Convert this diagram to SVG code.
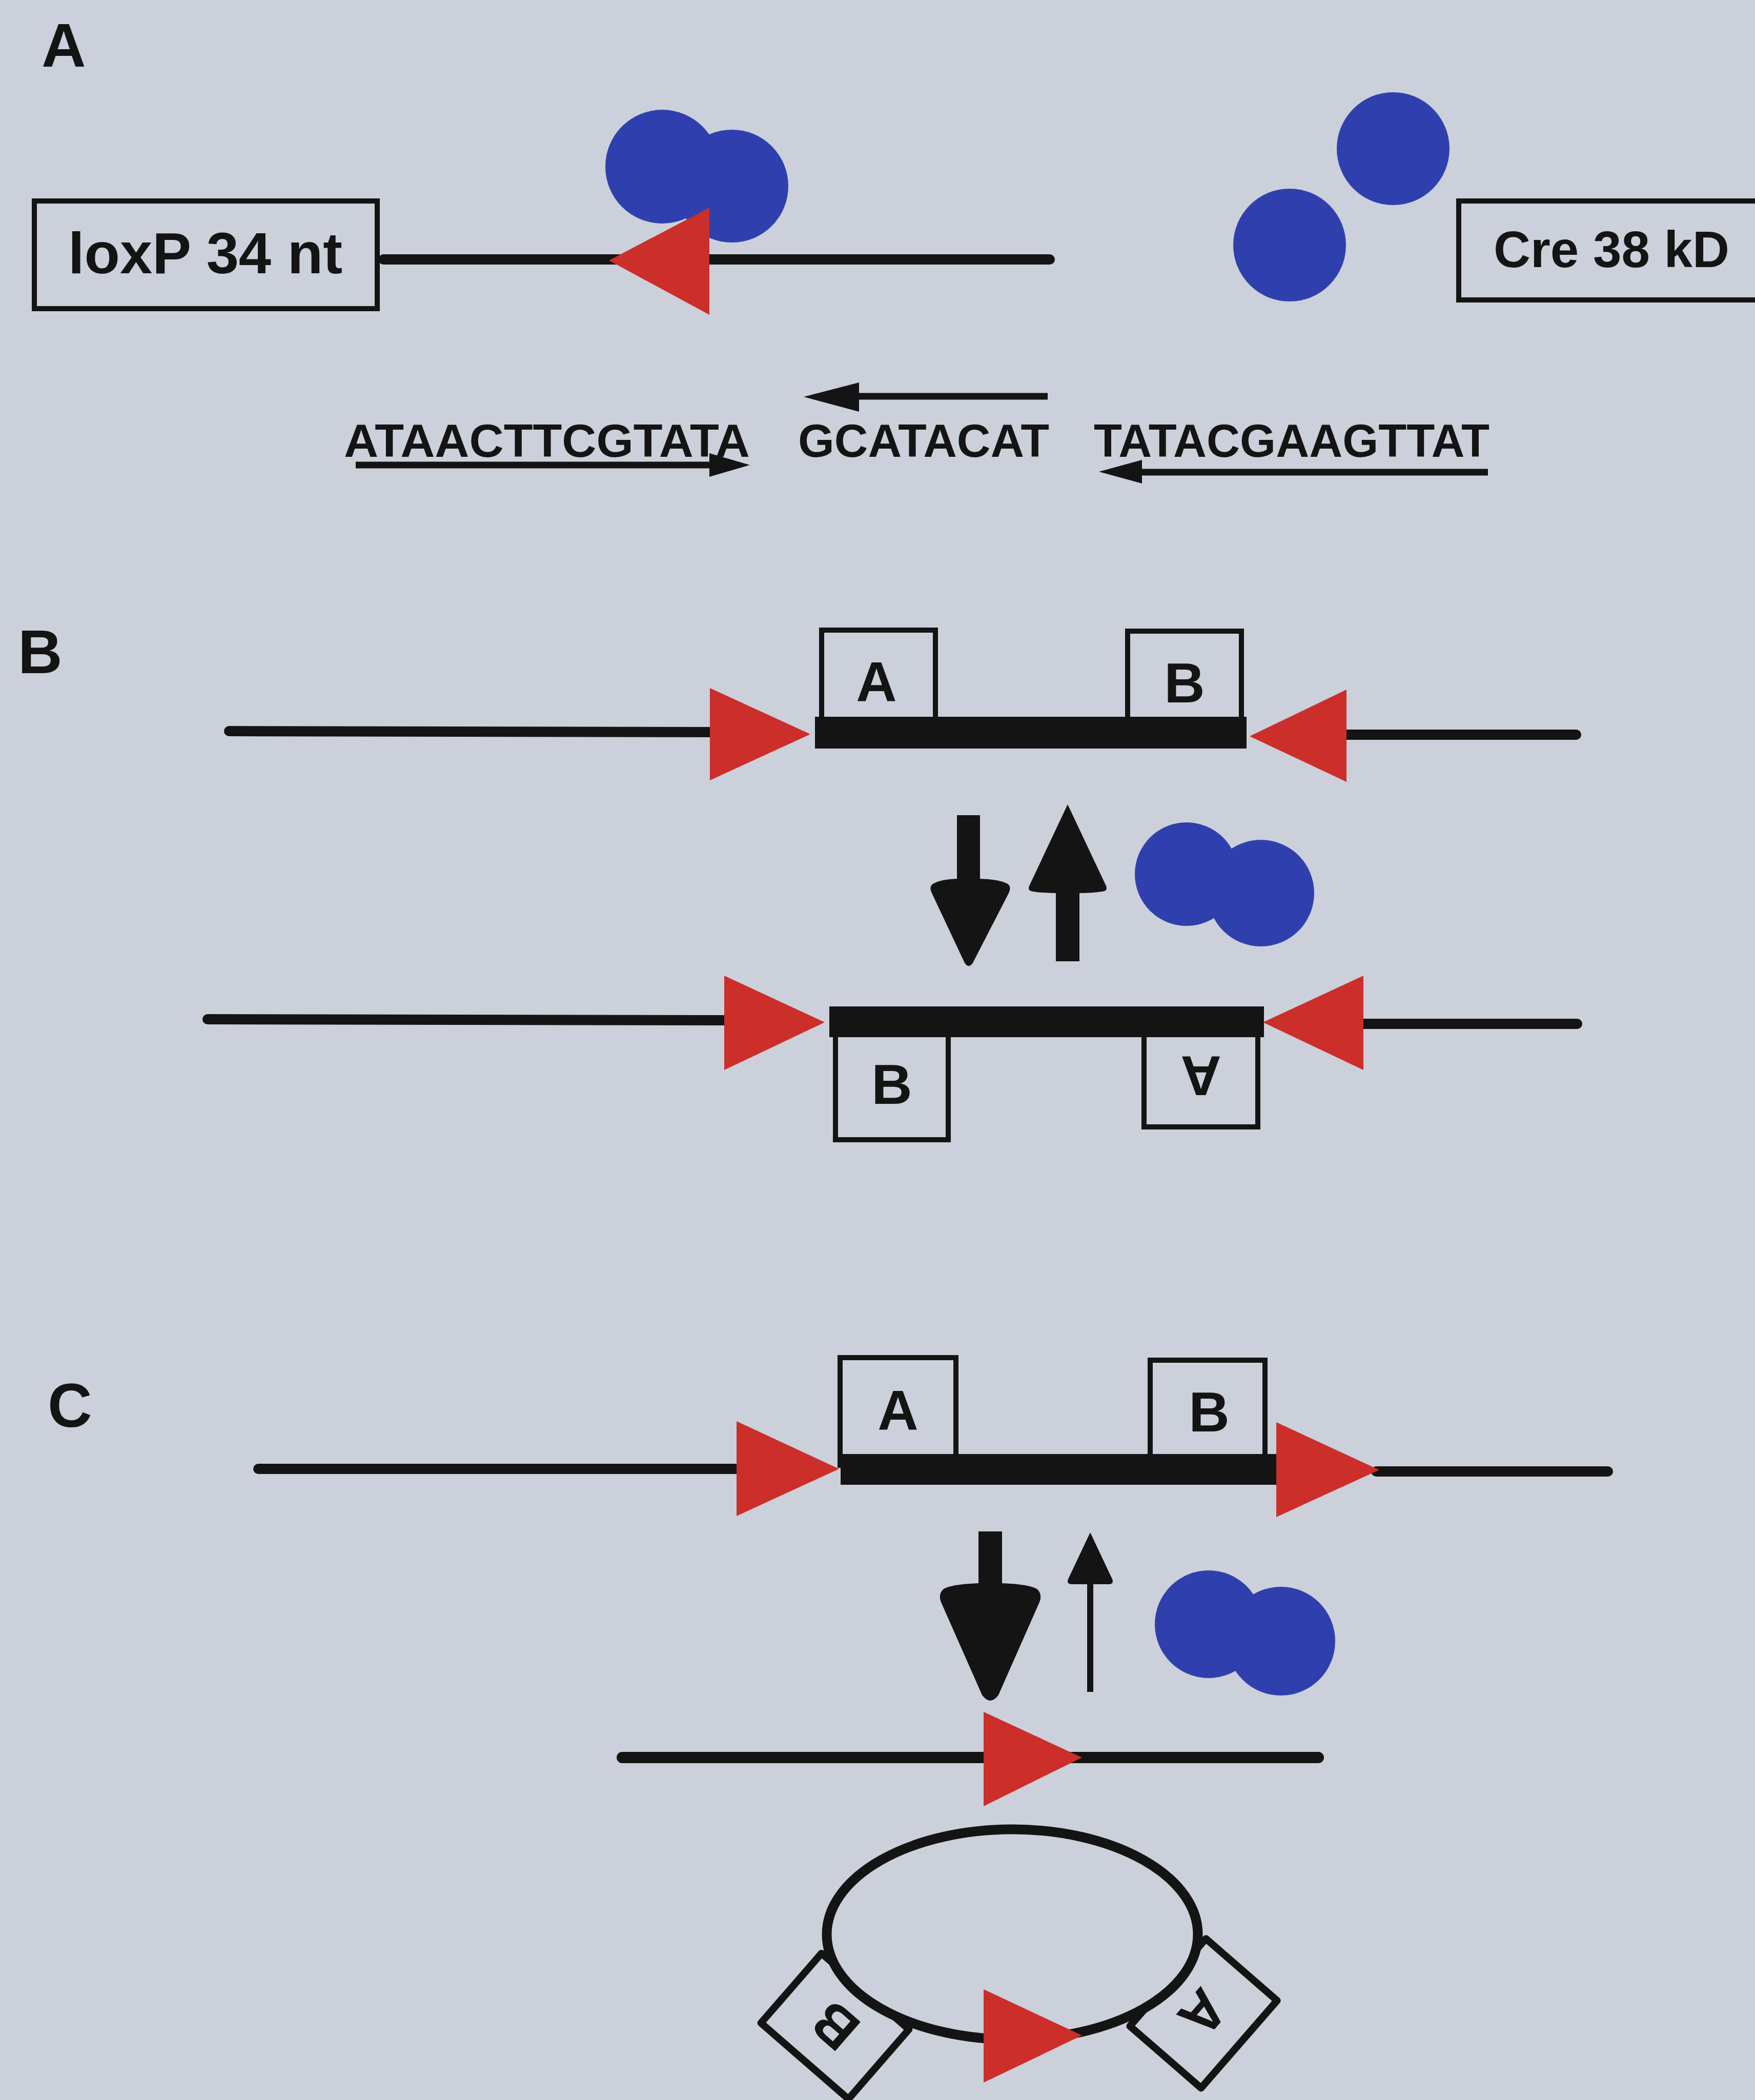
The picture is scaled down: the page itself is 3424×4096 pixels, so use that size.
<svg xmlns="http://www.w3.org/2000/svg" width="3424" height="4096" viewBox="0 0 3424 4096">
<style>
.bg{fill:#ccd0da}
.dna{stroke:#141414;stroke-width:20;stroke-linecap:round;fill:none}
.pdna{stroke:#141414;stroke-width:22;stroke-linecap:round;fill:none}
.bar{fill:#141414}
.lox{fill:#cc2e2a}
.cre{fill:#2f40ae}
.box{fill:none;stroke:#141414;stroke-width:10}
.rbox{fill:#ccd0da;stroke:#141414;stroke-width:14;stroke-linejoin:round}
.ring{fill:#ccd0da;stroke:#141414;stroke-width:19}
.lbl{font-family:"Liberation Sans",Arial,Helvetica,sans-serif;font-weight:bold;fill:#141414}
.sec{font-size:120px}
.bx{font-size:110px;text-anchor:middle}
.seq{font-size:91px}
.arr{fill:#141414}
.sl{stroke:#141414;stroke-width:13;fill:none}
</style>
<rect class="bg" x="0" y="0" width="3424" height="4096"/>

<!-- Section A -->
<g id="label-A"><text class="lbl sec" x="81" y="130">A</text></g>
<g id="loxp-box">
<rect class="box" x="67" y="392" width="669" height="210"/>
<text class="lbl" x="133" y="533" font-size="114" textLength="535" lengthAdjust="spacingAndGlyphs">loxP 34 nt</text>
</g>
<g id="cre-bound">
<circle class="cre" cx="1292" cy="325" r="111"/>
<circle class="cre" cx="1428" cy="363" r="110"/>
</g>
<g id="loxp-dna">
<line class="dna" x1="748" y1="506" x2="2048" y2="506"/>
<polygon class="lox" points="1384,405 1384,614 1188,508"/>
</g>
<g id="cre-free">
<circle class="cre" cx="2718" cy="290" r="110"/>
<circle class="cre" cx="2516" cy="478" r="110"/>
</g>
<g id="cre-box">
<rect class="box" x="2846" y="392" width="700" height="193"/>
<text class="lbl" x="2914" y="521" font-size="100" textLength="460" lengthAdjust="spacingAndGlyphs">Cre 38 kD</text>
</g>
<g id="seq-left"><text class="lbl seq" x="671" y="891" textLength="792" lengthAdjust="spacingAndGlyphs">ATAACTTCGTATA</text></g>
<g id="seq-spacer"><text class="lbl seq" x="1557" y="891" textLength="490" lengthAdjust="spacingAndGlyphs">GCATACAT</text></g>
<g id="seq-right"><text class="lbl seq" x="2134" y="891" textLength="772" lengthAdjust="spacingAndGlyphs">TATACGAAGTTAT</text></g>

<!-- Section B -->
<g id="label-B"><text class="lbl sec" x="35" y="1313">B</text></g>
<g id="construct-B-top">
<line class="dna" x1="447" y1="1426" x2="1400" y2="1428"/>
<line class="dna" x1="2620" y1="1433" x2="3075" y2="1433"/>
<rect class="box" x="1603" y="1229" width="222" height="190"/>
<rect class="box" x="2200" y="1231" width="222" height="188"/>
<rect class="bar" x="1590" y="1398" width="842" height="62"/>
<polygon class="lox" points="1385,1342 1385,1522 1581,1432"/>
<polygon class="lox" points="2627,1345 2627,1525 2438,1436"/>
<text class="lbl bx" x="1710" y="1367">A</text>
<text class="lbl bx" x="2311" y="1370">B</text>
</g>
<g id="cre-B">
<circle class="cre" cx="2315" cy="1705" r="101"/>
<circle class="cre" cx="2460" cy="1742" r="104"/>
</g>
<g id="construct-B-bottom">
<line class="dna" x1="405" y1="1988" x2="1420" y2="1990"/>
<line class="dna" x1="2650" y1="1997" x2="3077" y2="1997"/>
<rect class="box" x="1630" y="1990" width="220" height="233"/>
<rect class="box" x="2232" y="1990" width="222" height="208"/>
<rect class="bar" x="1618" y="1963" width="848" height="60"/>
<polygon class="lox" points="1413,1903 1413,2087 1609,1994"/>
<polygon class="lox" points="2660,1903 2660,2087 2464,1994"/>
<text class="lbl bx" x="1740" y="2153">B</text>
<text class="lbl bx" x="2343" y="2139" transform="rotate(180 2343 2100)">A</text>
</g>

<!-- Section C -->
<g id="label-C"><text class="lbl sec" x="93" y="2783">C</text></g>
<g id="construct-C-top">
<line class="dna" x1="504" y1="2865" x2="1445" y2="2865"/>
<line class="dna" x1="2685" y1="2870" x2="3137" y2="2870"/>
<rect class="box" x="1639" y="2648" width="226" height="210"/>
<rect class="box" x="2244" y="2653" width="224" height="205"/>
<rect class="bar" x="1640" y="2836" width="852" height="60"/>
<polygon class="lox" points="1437,2772 1437,2957 1637,2865"/>
<polygon class="lox" points="2490,2774 2490,2959 2691,2867"/>
<text class="lbl bx" x="1752" y="2788">A</text>
<text class="lbl bx" x="2359" y="2792">B</text>
</g>
<g id="cre-C">
<circle class="cre" cx="2358" cy="3168" r="105"/>
<circle class="cre" cx="2499" cy="3201" r="106"/>
</g>
<g id="product-linear">
<line class="pdna" x1="1214" y1="3428" x2="2572" y2="3428"/>
<polygon class="lox" points="1919,3339 1919,3523 2111,3428"/>
</g>
<g id="product-circle">
<g transform="translate(1629,3952) rotate(221)">
<rect class="rbox" x="-113" y="-90" width="226" height="180"/>
<text class="lbl bx" x="0" y="39">B</text>
</g>
<g transform="translate(2348,3927) rotate(131)">
<rect class="rbox" x="-113" y="-92" width="226" height="184"/>
<text class="lbl bx" x="0" y="39">A</text>
</g>
<ellipse class="ring" cx="1975" cy="3773" rx="362" ry="205"/>
<polygon class="lox" points="1919,3880 1919,4062 2111,3970"/>
</g>

<!-- Connectors -->
<g id="connectors">
<line class="sl" x1="694" y1="907" x2="1400" y2="907"/>
<polygon class="arr" points="1384,884 1463,907 1384,930"/>
<line class="sl" x1="1660" y1="773" x2="2044" y2="773"/>
<polygon class="arr" points="1676,746 1568,774 1676,803"/>
<line class="sl" x1="2215" y1="921" x2="2903" y2="921"/>
<polygon class="arr" points="2228,897 2144,920 2228,943"/>
<path class="arr" d="M1867,1590 H1912 V1714 Q1950,1715 1966,1724 Q1974,1730 1968,1742 L1898,1878 Q1890,1890 1882,1878 L1818,1742 Q1812,1730 1820,1724 Q1835,1715 1867,1714 Z"/>
<path class="arr" d="M2083,1569 L2158,1728 Q2162,1738 2150,1739 Q2130,1742 2106,1742 V1875 H2060 V1742 Q2036,1742 2016,1739 Q2004,1738 2008,1728 Z"/>
<path class="arr" d="M1909,2987 H1955 V3088 Q2010,3090 2024,3100 Q2034,3110 2028,3125 L1948,3306 Q1932,3328 1916,3306 L1836,3125 Q1830,3110 1840,3100 Q1854,3090 1909,3088 Z"/>
<path class="arr" d="M2127,2989 L2170,3080 Q2174,3090 2162,3090 H2133 V3300 H2121 V3090 H2092 Q2080,3090 2084,3080 Z"/>
</g>
</svg>
